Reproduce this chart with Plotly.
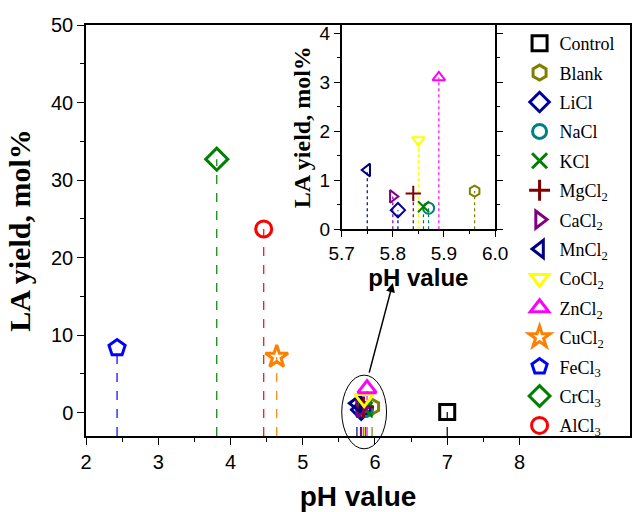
import plotly.graph_objects as go

# ---------------- data ----------------
names = ["Control", "Blank", "LiCl", "NaCl", "KCl", "MgCl<sub>2</sub>", "CaCl<sub>2</sub>",
         "MnCl<sub>2</sub>", "CoCl<sub>2</sub>", "ZnCl<sub>2</sub>", "CuCl<sub>2</sub>",
         "FeCl<sub>3</sub>", "CrCl<sub>3</sub>", "AlCl<sub>3</sub>"]
ph_value = [7.00, 5.96, 5.81, 5.87, 5.86, 5.84, 5.80, 5.75, 5.85, 5.89, 4.64, 2.43, 3.81, 4.46]
la_yield = [0.1, 0.78, 0.39, 0.43, 0.46, 0.73, 0.67, 1.21, 1.82, 3.10, 7.2, 8.35, 32.7, 23.7]
colors = ["#000000", "#808000", "#0000A0", "#008080", "#008000", "#800000", "#800080",
          "#000080", "#FFFF00", "#FF00FF", "#FF8000", "#0000FF", "#008000", "#FF0000"]
symbols = ["square-open", "hexagon-open", "diamond-open", "circle-open", "x-thin-open",
           "cross-thin-open", "triangle-right-open", "triangle-left-open", "triangle-down-open",
           "triangle-up-open", "star-open", "pentagon-open", "diamond-open", "circle-open"]
sizes = [15, 15, 15, 14, 15, 15, 15, 15, 16, 16, 17, 17, 17, 16]

main_x_ticks = [2, 3, 4, 5, 6, 7, 8]
main_y_ticks = [0, 10, 20, 30, 40, 50]
inset_x_ticks = [5.7, 5.8, 5.9, 6.0]
inset_y_ticks = [0, 1, 2, 3, 4]

X_RANGE = [2, 9.53]
Y_RANGE = [-3, 50]
IX_RANGE = [5.7, 6.0]
IY_RANGE = [0, 4.17]

# ---------------- figure ----------------
fig = go.Figure()

# main stems
for x, y, c in zip(ph_value, la_yield, colors):
    fig.add_trace(go.Scatter(x=[x, x], y=[Y_RANGE[0], y], mode="lines",
                             line=dict(color=c, width=1.2, dash="dash"),
                             showlegend=False, hoverinfo="skip", xaxis="x", yaxis="y"))
# inset stems
for x, y, c in zip(ph_value, la_yield, colors):
    if IX_RANGE[0] <= x <= IX_RANGE[1]:
        fig.add_trace(go.Scatter(x=[x, x], y=[IY_RANGE[0], y], mode="lines",
                                 line=dict(color=c, width=1.2, dash="dot"),
                                 showlegend=False, hoverinfo="skip", xaxis="x2", yaxis="y2"))

# main markers
for i, (n, x, y, c, s, sz) in enumerate(zip(names, ph_value, la_yield, colors, symbols, sizes)):
    fig.add_trace(go.Scatter(x=[x], y=[y], mode="markers", name=n, legendgroup="g%d" % i,
                             marker=dict(symbol=s, size=sz, color=c,
                                         line=dict(color=c, width=3)),
                             xaxis="x", yaxis="y"))
# inset markers
for n, x, y, c, s in zip(names, ph_value, la_yield, colors, symbols):
    if IX_RANGE[0] <= x <= IX_RANGE[1]:
        fig.add_trace(go.Scatter(x=[x], y=[y], mode="markers", name=n, showlegend=False,
                                 marker=dict(symbol=s, size=11, color=c,
                                             line=dict(color=c, width=2)),
                                 xaxis="x2", yaxis="y2"))

ARIAL = "Liberation Sans"
TIMES = "Liberation Serif"

fig.update_layout(
    width=632, height=512,
    margin=dict(l=86, r=2, t=25, b=76, autoexpand=False),
    paper_bgcolor="white", plot_bgcolor="white",
    font=dict(family=ARIAL, color="black", size=20),
    xaxis=dict(domain=[0, 1], range=X_RANGE, showgrid=False, zeroline=False,
               showline=True, linecolor="black", linewidth=1.5, mirror=True,
               ticks="outside", ticklen=7, tickwidth=1.2, tickcolor="black",
               tickvals=main_x_ticks, ticktext=[str(t) for t in main_x_ticks],
               minor=dict(tickvals=[t + 0.5 for t in main_x_ticks[:-1]], ticks="outside",
                          ticklen=4, tickwidth=1.2, tickcolor="black"),
               tickfont=dict(size=20, family=ARIAL),
               title=dict(text="<b>pH value</b>", font=dict(size=28, family=ARIAL), standoff=16)),
    yaxis=dict(domain=[0, 1], range=Y_RANGE, showgrid=False, zeroline=False,
               showline=True, linecolor="black", linewidth=1.5, mirror=True,
               ticks="outside", ticklen=7, tickwidth=1.2, tickcolor="black",
               tickvals=main_y_ticks,
               minor=dict(tickvals=[t + 5 for t in main_y_ticks[:-1]], ticks="outside",
                          ticklen=4, tickwidth=1.2, tickcolor="black"),
               tickfont=dict(size=20, family=ARIAL),
               title=dict(text="<b>LA yield, mol%</b>", font=dict(size=30, family=TIMES), standoff=12)),
    xaxis2=dict(domain=[0.470, 0.752], anchor="y2", range=IX_RANGE, showgrid=False,
                zeroline=False, showline=True, linecolor="black", linewidth=1.5, mirror=True,
                ticks="outside", ticklen=6, tickwidth=1.2, tickcolor="black",
                tickvals=inset_x_ticks, ticktext=["%.1f" % t for t in inset_x_ticks],
                minor=dict(tickvals=[t + 0.05 for t in inset_x_ticks[:-1]], ticks="outside",
                           ticklen=3, tickwidth=1.2, tickcolor="black"),
                tickfont=dict(size=19, family=ARIAL),
                title=dict(text="<b>pH value</b>", font=dict(size=24, family=ARIAL), standoff=2)),
    yaxis2=dict(domain=[0.503, 1.0], anchor="x2", range=IY_RANGE, showgrid=False,
                zeroline=False, showline=True, linecolor="black", linewidth=1.5, mirror="ticks",
                ticks="outside", ticklen=6, tickwidth=1.2, tickcolor="black",
                tickvals=inset_y_ticks,
                minor=dict(tickvals=[t + 0.5 for t in inset_y_ticks[:-1]], ticks="outside",
                           ticklen=3, tickwidth=1.2, tickcolor="black"),
                tickfont=dict(size=19, family=ARIAL),
                title=dict(text="<b>LA yield, mol%</b>", font=dict(size=24, family=TIMES), standoff=2)),
    legend=dict(x=0.797, y=1.0, xanchor="left", yanchor="top",
                bgcolor="rgba(0,0,0,0)", borderwidth=0,
                font=dict(family=TIMES, size=18, color="black"),
                tracegroupgap=3, itemsizing="trace", maxheight=490),
    showlegend=True,
)

# ellipse around cluster and arrow (paper coords derived from data values)
def px(v):
    return (v - X_RANGE[0]) / (X_RANGE[1] - X_RANGE[0])

def py(v):
    return (v - Y_RANGE[0]) / (Y_RANGE[1] - Y_RANGE[0])

ell_cx, ell_rx, ell_cy, ell_ry = 5.85, 0.31, 0.1, 4.75
fig.add_shape(type="circle", xref="paper", yref="paper",
              x0=px(ell_cx - ell_rx), x1=px(ell_cx + ell_rx),
              y0=py(ell_cy - ell_ry), y1=py(ell_cy + ell_ry),
              line=dict(color="black", width=1))

fig.add_annotation(xref="paper", yref="paper", x=0.564, y=0.372,
                   ax=-24, ay=91, axref="pixel", ayref="pixel",
                   showarrow=True, arrowhead=2, arrowsize=1.2, arrowwidth=1.5,
                   arrowcolor="black", text="")

fig.write_html("out.html")
